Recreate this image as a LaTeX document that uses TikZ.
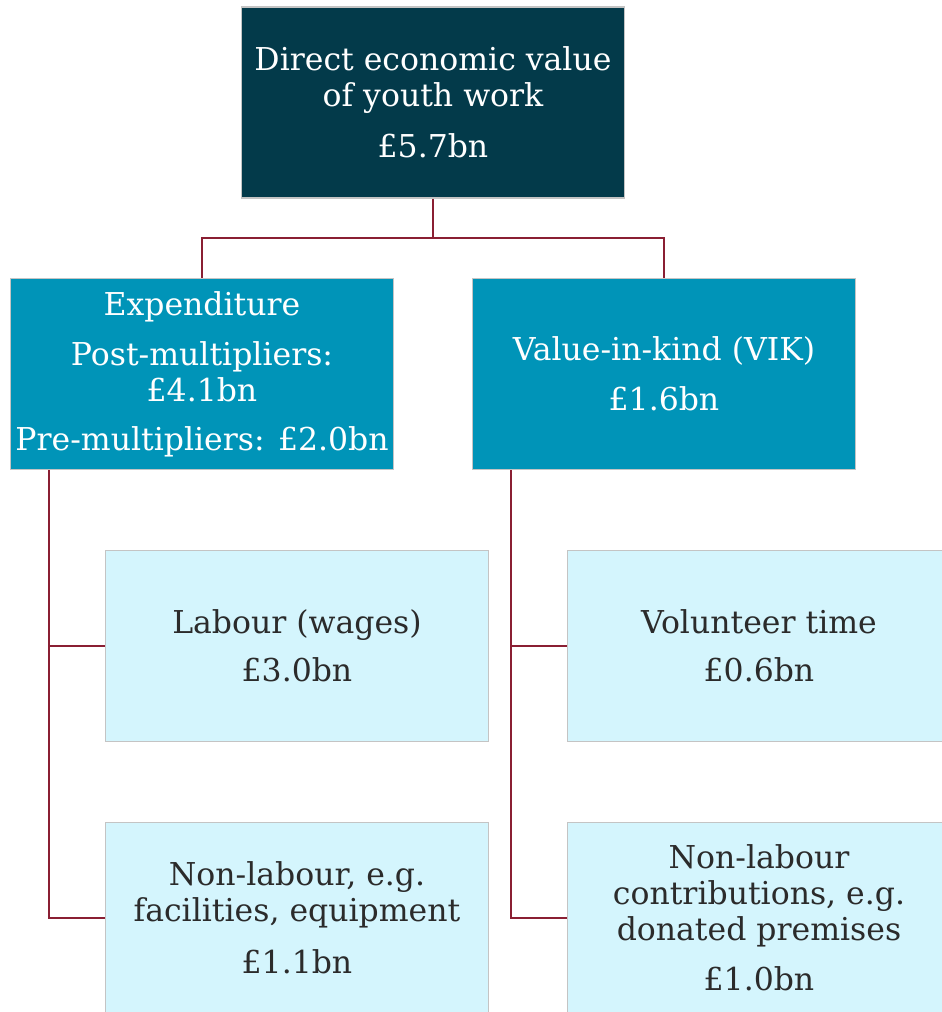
\documentclass[tikz,border=0pt]{standalone}
\usepackage{fontspec}
\setmainfont{DejaVu Serif}
\definecolor{topc}{HTML}{033A4A}
\definecolor{midc}{HTML}{0094B8}
\definecolor{lowc}{HTML}{D4F5FD}
\definecolor{linec}{HTML}{8A1F33}
\definecolor{bordc}{HTML}{C4C4C4}
\definecolor{txtc}{HTML}{2B2B2B}
\begin{document}
\begin{tikzpicture}[x=1pt,y=-1pt,
 box/.style={rectangle, draw=bordc, line width=1.8pt, minimum width=383pt, minimum height=191pt, align=center, inner sep=0pt, font=\fontsize{31.5}{36}\selectfont},
 topbox/.style={box, fill=topc, text=white},
 midbox/.style={box, fill=midc, text=white},
 lowbox/.style={box, fill=lowc, text=txtc},
 conn/.style={draw=linec, line width=2.2pt}]
\useasboundingbox (0,0) rectangle (942,1012);
\clip (0,0) rectangle (942,1012);
\fill[white] (0,0) rectangle (942,1012);
\node[topbox] (top) at (433,102.5) {Direct economic value\\of youth work\\[15pt]£5.7bn};
\node[midbox] (exp) at (202,374) {Expenditure\\[14pt]Post-multipliers:\\£4.1bn\\[13pt]Pre-multipliers: £2.0bn};
\node[midbox] (vik) at (664,374) {Value-in-kind (VIK)\\[14pt]£1.6bn};
\node[lowbox] (lab) at (297,646) {Labour (wages)\\[12pt]£3.0bn};
\node[lowbox] (nonl) at (297,918) {Non-labour, e.g.\\facilities, equipment\\[16pt]£1.1bn};
\node[lowbox] (vol) at (759,646) {Volunteer time\\[12pt]£0.6bn};
\node[lowbox] (nonr) at (759,918) {Non-labour\\contributions, e.g.\\donated premises\\[14pt]£1.0bn};
\coordinate (j) at (433,238);
\coordinate (lx) at (49,0);
\coordinate (rx) at (511,0);
\draw[conn] (top.south) -- (j);
\draw[conn] (exp.north) |- (j) -| (vik.north);
\draw[conn] (exp.south -| lx) |- (lab.west);
\draw[conn] (exp.south -| lx) |- (nonl.west);
\draw[conn] (vik.south -| rx) |- (vol.west);
\draw[conn] (vik.south -| rx) |- (nonr.west);
\end{tikzpicture}
\end{document}
